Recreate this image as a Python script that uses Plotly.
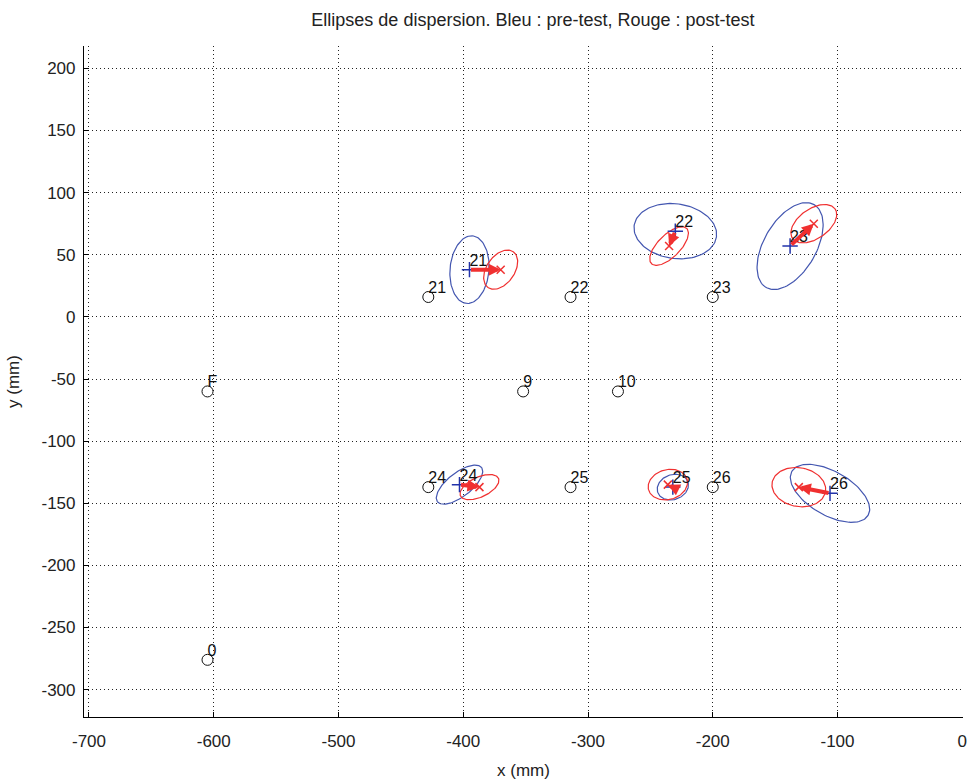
import numpy as np
import plotly.graph_objects as go

# ---------------- data ----------------
ref_labels = ["F", "9", "10", "0", "21", "22", "23", "24", "25", "26"]
ref_x = [-605, -352, -276, -605, -428, -314, -200, -428, -314, -200]
ref_y = [-60, -60, -60, -276, 16, 16, 16, -137, -137, -137]

cond_labels = ["21", "22", "23", "24", "25", "26"]
# pre-test (blue) ellipse centre, semi-axes (mm) and orientation (deg)
pre_x = [-395, -230, -138, -403, -232, -106]
pre_y = [38, 69, 57, -135, -137, -142]
pre_a = [27.3, 33.3, 38.5, 22.4, 12.8, 35.3]
pre_b = [15.6, 22.0, 21.0, 9.6, 10.0, 17.6]
pre_ang = [85, -8, 60, 38, 20, -30]
# post-test (red)
post_x = [-370, -235, -119, -387, -236, -131]
post_y = [38, 57, 75, -137, -135, -137]
post_a = [17.6, 20.0, 20.8, 16.8, 16.0, 21.7]
post_b = [11.2, 9.0, 12.0, 8.0, 12.0, 15.6]
post_ang = [55, 45, 35, 25, 15, -10]

x_ticks = [-700, -600, -500, -400, -300, -200, -100, 0]
x_ticklabels = ["-700", "-600", "-500", "-400", "-300", "-200", "-100", "0"]
y_ticks = [-300, -250, -200, -150, -100, -50, 0, 50, 100, 150, 200]
y_ticklabels = ["-300", "-250", "-200", "-150", "-100", "-50", "0", "50", "100", "150", "200"]

BLUE = "#4356b0"
RED = "#f03030"
FONT = "Liberation Sans"
TXT = "#222222"

fig = go.Figure()


def ellipse(cx, cy, a, b, ang, n=120):
    t = np.linspace(0, 2 * np.pi, n)
    th = np.deg2rad(ang)
    ex = a * np.cos(t)
    ey = b * np.sin(t)
    return (cx + ex * np.cos(th) - ey * np.sin(th),
            cy + ex * np.sin(th) + ey * np.cos(th))


for i in range(len(cond_labels)):
    x, y = ellipse(pre_x[i], pre_y[i], pre_a[i], pre_b[i], pre_ang[i])
    fig.add_trace(go.Scatter(x=x, y=y, mode="lines",
                             line=dict(color=BLUE, width=1.2),
                             showlegend=False, hoverinfo="skip"))
    x, y = ellipse(post_x[i], post_y[i], post_a[i], post_b[i], post_ang[i])
    fig.add_trace(go.Scatter(x=x, y=y, mode="lines",
                             line=dict(color=RED, width=1.2),
                             showlegend=False, hoverinfo="skip"))

# reference points
fig.add_trace(go.Scatter(
    x=ref_x, y=ref_y, mode="markers",
    marker=dict(symbol="circle-open", size=11, color="#111", line=dict(width=1)),
    showlegend=False))
fig.add_trace(go.Scatter(
    x=ref_x, y=ref_y, mode="text", text=ref_labels,
    textposition="top right",
    textfont=dict(family=FONT, size=16, color="#111"),
    showlegend=False))

# arrows pre -> post
for i in range(len(cond_labels)):
    fig.add_annotation(x=post_x[i], y=post_y[i], ax=pre_x[i], ay=pre_y[i],
                       xref="x", yref="y", axref="x", ayref="y",
                       text="", showarrow=True, arrowhead=2, arrowsize=0.6,
                       arrowwidth=4, arrowcolor=RED, standoff=0)

# centres
fig.add_trace(go.Scatter(
    x=pre_x, y=pre_y, mode="markers",
    marker=dict(symbol="cross-thin", size=11, line=dict(color="#2233aa", width=1.5)),
    showlegend=False))
fig.add_trace(go.Scatter(
    x=pre_x, y=pre_y, mode="text", text=cond_labels,
    textposition="top right",
    textfont=dict(family=FONT, size=16, color="#111"),
    showlegend=False))
fig.add_trace(go.Scatter(
    x=post_x, y=post_y, mode="markers",
    marker=dict(symbol="x-thin", size=8, line=dict(color=RED, width=1.5)),
    showlegend=False))

axis_common = dict(
    showline=True, linecolor="black", linewidth=1.2, mirror=False,
    ticks="inside", ticklen=5, tickcolor="black",
    showgrid=True, gridcolor="#222", gridwidth=1, griddash="1px,3px",
    zeroline=False, automargin=False,
    tickfont=dict(family=FONT, size=17, color=TXT),
    title_font=dict(family=FONT, size=17, color=TXT),
)

fig.update_xaxes(range=[-704, 0.6], tickvals=x_ticks, ticktext=x_ticklabels,
                 ticklabelstandoff=8,
                 title_text="x (mm)", title_standoff=14, **axis_common)
fig.update_yaxes(range=[-322, 218], tickvals=y_ticks, ticktext=y_ticklabels,
                 ticklabelstandoff=4,
                 title_text="y (mm)", title_standoff=17, **axis_common)

fig.update_layout(
    width=969, height=783, autosize=False,
    margin=dict(l=84, r=6, t=46, b=66),
    paper_bgcolor="white", plot_bgcolor="white",
    title=dict(text="Ellipses de dispersion. Bleu : pre-test, Rouge : post-test",
               x=0.55, xanchor="center", y=0.975, yanchor="middle",
               font=dict(family=FONT, size=18, color=TXT)),
    showlegend=False,
)

fig.write_html("out.html", config={"displayModeBar": False},
               post_script="document.body.style.margin='0';"
                           "document.body.style.overflow='hidden';")
